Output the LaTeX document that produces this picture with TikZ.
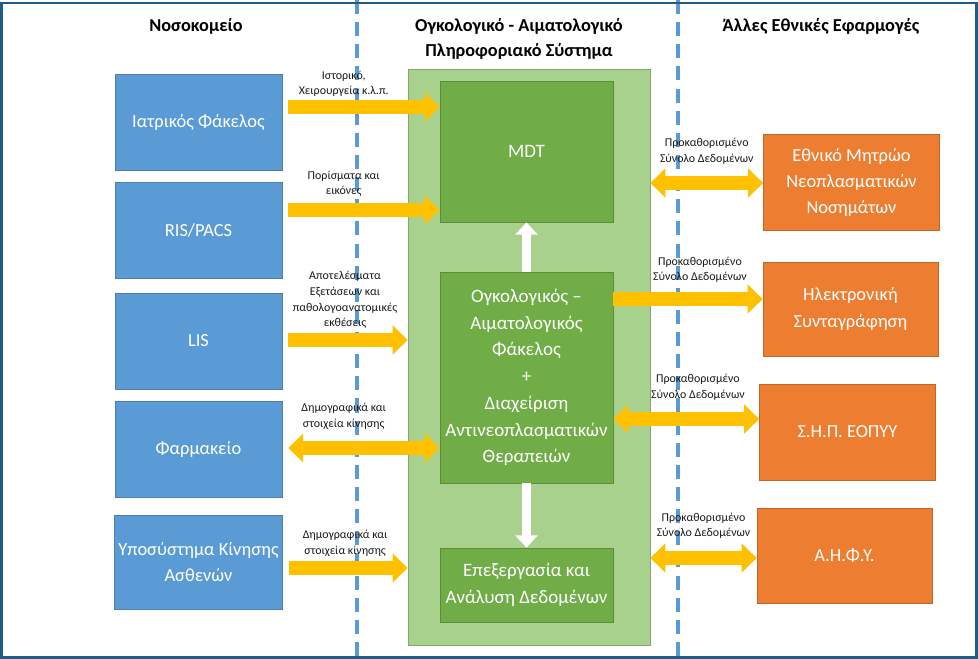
\documentclass[tikz,border=0pt]{standalone}
\usepackage{fontspec}
\setmainfont{Carlito}
\usetikzlibrary{arrows.meta}
\definecolor{hblue}{HTML}{5B9BD5}
\definecolor{lgreen}{HTML}{A9D18E}
\definecolor{dgreen}{HTML}{70AD47}
\definecolor{orng}{HTML}{ED7D31}
\definecolor{yllw}{HTML}{FFC000}
\definecolor{frameblue}{HTML}{1F5C87}
\begin{document}
\begin{tikzpicture}[x=0.02cm,y=-0.02cm,
  box/.style={draw=#1!82!black, fill=#1, line width=.4pt, text=white, align=center,
    font=\fontsize{10.5}{14.9}\selectfont, inner sep=2pt},
  hbox/.style={box=hblue, minimum width=3.34cm, minimum height=1.92cm},
  gbox/.style={box=dgreen, minimum width=3.46cm, font=\fontsize{10.8}{15.2}\selectfont},
  obox/.style={box=orng, minimum width=3.52cm, minimum height=1.92cm},
  head/.style={align=center, font=\bfseries\fontsize{10.4}{14.2}\selectfont},
  lbl/.style={align=center, inner sep=0pt, text=black!90, font=\fontsize{6.8}{9}\selectfont},
  yarr/.style={draw=yllw, line width=8pt, -{Triangle[width=16pt,length=8.5pt]}},
  ydbl/.style={draw=yllw, line width=8pt, {Triangle[width=16pt,length=8.5pt]}-{Triangle[width=16pt,length=8.5pt]}},
  warr/.style={draw=white, line width=5.6pt, -{Triangle[width=12.5pt,length=7pt]}},
  sep/.style={draw=hblue, line width=2.4pt, dash pattern=on 8pt off 4.6pt}]
\useasboundingbox (0,0) rectangle (978,659);
\draw[sep] (357,0)--(357,659);
\draw[sep] (678,0)--(678,659);

\node[head] (hosp) at (196,26) {Νοσοκομείο};
\node[head] (ois) at (519,38.5) {Ογκολογικό - Αιματολογικό\\Πληροφοριακό Σύστημα};
\node[head] (other) at (821,26) {Άλλες Εθνικές Εφαρμογές};

\node[hbox] (ifak) at (198.5,122) {Ιατρικός Φάκελος};
\node[hbox] (ris) at (198.5,230.5) {RIS/PACS};
\node[hbox] (lis) at (198.5,341) {LIS};
\node[hbox] (farm) at (198.5,449) {Φαρμακείο};
\node[hbox, minimum height=1.88cm] (ypos) at (198.5,562) {Υποσύστημα Κίνησης\\Ασθενών};

\node[draw=lgreen!80!black, fill=lgreen, line width=.4pt, minimum width=4.84cm, minimum height=11.52cm] (bg) at (529,357) {};
\node[gbox, minimum height=2.82cm] (mdt) at (526.5,151.5) {MDT};
\node[gbox, minimum height=4.22cm] (fak) at (526.5,377.5) {Ογκολογικός –\\Αιματολογικός\\Φάκελος\\+\\Διαχείριση\\Αντινεοπλασματικών\\Θεραπειών};
\node[gbox, minimum height=1.48cm] (epex) at (526.5,585) {Επεξεργασία και\\Ανάλυση Δεδομένων};

\node[obox] (emn) at (851.5,182.5) {Εθνικό Μητρώο\\Νεοπλασματικών\\Νοσημάτων};
\node[obox, minimum width=3.5cm, minimum height=1.88cm] (hsyn) at (850.5,309) {Ηλεκτρονική\\Συνταγράφηση};
\node[obox] (shp) at (847.5,432) {Σ.Η.Π. ΕΟΠΥΥ};
\node[obox, minimum width=3.5cm, minimum height=1.9cm] (ahfy) at (844.5,555.5) {Α.Η.Φ.Υ.};

\draw[warr] (fak.north)--(mdt.south);
\draw[warr] (fak.south)--(epex.north);

\draw[yarr, shorten <=3.4pt] (ifak.east |- 0,107)--(mdt.west |- 0,107) node[lbl, pos=.39, above=1.8pt]{Ιστορικό,\\Χειρουργεία κ.λ.π.};
\draw[yarr, shorten <=3.4pt] (ris.east |- 0,210)--(mdt.west |- 0,210) node[lbl, pos=.39, above=3.5pt]{Πορίσματα και\\εικόνες};
\draw[yarr, shorten <=3.4pt] (lis.east |- 0,340)--(bg.west |- 0,340) node[lbl, pos=.5, above=2.4pt]{Αποτελέσματα\\Εξετάσεων και\\παθολογοανατομικές\\εκθέσεις};
\draw[ydbl, shorten <=3.4pt] (farm.east |- 0,448)--(fak.west |- 0,448) node[lbl, pos=.39, above=6.4pt]{Δημογραφικά και\\στοιχεία κίνησης};
\draw[yarr, shorten <=3.4pt] (ypos.east |- 0,568)--(bg.west |- 0,568) node[lbl, pos=.5, above=2.4pt]{Δημογραφικά και\\στοιχεία κίνησης};

\draw[ydbl] (bg.east |- 0,183)--(emn.west |- 0,183) node[lbl, pos=.5, above=6.4pt]{Προκαθορισμένο\\Σύνολο Δεδομένων};
\draw[yarr] (fak.east |- 0,299)--(hsyn.west |- 0,299) node[lbl, pos=.58, above=5.2pt]{Προκαθορισμένο\\Σύνολο Δεδομένων};
\draw[ydbl] (fak.east |- 0,419)--(shp.west |- 0,419) node[lbl, pos=.58, above=6.4pt]{Προκαθορισμένο\\Σύνολο Δεδομένων};
\draw[ydbl] (bg.east |- 0,558)--(ahfy.west |- 0,558) node[lbl, pos=.5, above=6.9pt]{Προκαθορισμένο\\Σύνολο Δεδομένων};

\draw[frameblue, line width=1.7pt] (1.5,3) rectangle (976,657.5);
\end{tikzpicture}
\end{document}
